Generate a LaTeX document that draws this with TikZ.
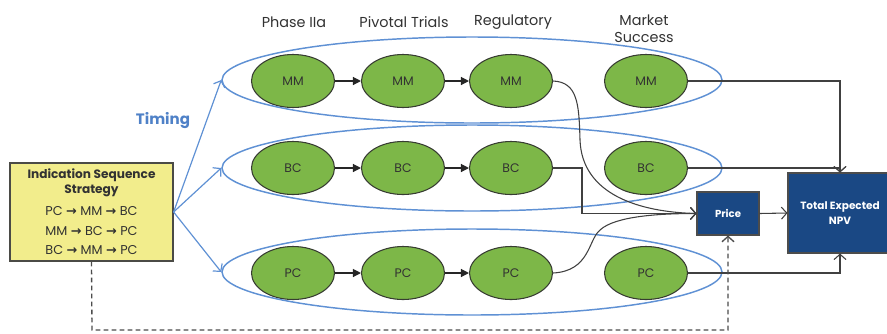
\documentclass[tikz,border=0pt]{standalone}
\usepackage{fontspec}
\setmainfont{Poppins}
\newfontfamily\arrfont{DejaVu Sans}
\usetikzlibrary{arrows.meta,shapes.geometric}
\definecolor{ggreen}{RGB}{125,183,72}
\definecolor{gborder}{RGB}{55,60,50}
\definecolor{lblue}{RGB}{95,145,212}
\definecolor{tblue}{RGB}{79,129,199}
\definecolor{yfill}{RGB}{242,237,140}
\definecolor{yborder}{RGB}{75,75,70}
\definecolor{dblue}{RGB}{26,72,132}
\definecolor{tgray}{RGB}{50,50,50}
\newcommand\sarrow{{\arrfont\bfseries\char"2192}}
\tikzset{
  gell/.style={ellipse, draw=gborder, fill=ggreen, line width=0.8pt, minimum width=62.25pt, minimum height=39.75pt, inner sep=0pt, text=tgray, font=\fontsize{9.3}{11}\selectfont},
  bell/.style={ellipse, draw=lblue, line width=1.1pt, minimum width=375pt, minimum height=64.5pt, inner sep=0pt},
  flow/.style={draw=black!85, line width=0.9pt, -{Triangle[length=6pt,width=6pt]}},
  conn/.style={draw=black!75, line width=0.8pt, -{Straight Barb[length=4pt,width=9pt]}},
  bconn/.style={draw=lblue, line width=0.9pt, -{Straight Barb[length=4pt,width=9pt]}},
  dbox/.style={rectangle, draw=black!70, fill=dblue, line width=0.8pt, text=white, inner sep=0pt, align=center},
  head/.style={text=tgray, font=\fontsize{10.8}{12.8}\selectfont, align=center, inner sep=0pt},
  ytext/.style={text=tgray, font=\fontsize{9.6}{11}\selectfont, inner sep=0pt},
}
\begin{document}
\begin{tikzpicture}[x=0.75pt,y=-0.75pt]
\useasboundingbox (0,0) rectangle (887,333);
% headings
\node[head] (h1) at (294,22) {Phase IIa};
\node[head] (h2) at (404,22) {Pivotal Trials};
\node[head] (h3) at (513,22) {Regulatory};
\node[head] (h4) at (644,29) {Market\\Success};
\node[text=tblue, font=\bfseries\fontsize{11.3}{13}\selectfont, inner sep=0pt] (timing) at (163,121) {Timing};
% yellow box
\node[rectangle, draw=yborder, fill=yfill, line width=0.9pt, minimum width=122.25pt, minimum height=73.5pt, inner sep=0pt] (strat) at (91.5,212) {};
\node[ytext, font=\bfseries\fontsize{9.1}{11}\selectfont] (s1) at (91.5,175) {Indication Sequence};
\node[ytext, font=\bfseries\fontsize{9.1}{11}\selectfont] (s2) at (91.5,191) {Strategy};
\node[ytext] (s3) at (91.5,211) {PC \sarrow{} MM \sarrow{} BC};
\node[ytext] (s4) at (91.5,231) {MM \sarrow{} BC \sarrow{} PC};
\node[ytext] (s5) at (91.5,250) {BC \sarrow{} MM \sarrow{} PC};
% green ellipses
\foreach \r/\y in {MM/81,BC/168,PC/273}{
  \node[gell] (\r1) at (293,\y) {\r};
  \node[gell] (\r2) at (403,\y) {\r};
  \node[gell] (\r3) at (511,\y) {\r};
  \node[gell] (\r4) at (646,\y) {\r};
  \draw[flow] (\r1) -- (\r2);
  \draw[flow] (\r2) -- (\r3);
}
% blue row ellipses
\node[bell] (rowMM) at (472,80) {};
\node[bell] (rowBC) at (472,168) {};
\node[bell] (rowPC) at (472,272) {};
\draw[bconn] (strat.east) -- (rowMM.west);
\draw[bconn] (strat.east) -- (rowBC.west);
\draw[bconn] (strat.east) -- (rowPC.west);
% boxes
\node[dbox, minimum width=46.5pt, minimum height=32.25pt, font=\bfseries\fontsize{7.6}{9}\selectfont] (price) at (728,213.5) {Price};
\node[dbox, minimum width=78pt, minimum height=60pt, font=\bfseries\fontsize{7.9}{11}\selectfont] (npv) at (840,213) {Total Expected\\NPV};
% connectors to price
\draw[conn] (MM3.east) .. controls (578,82) and (579,105) .. (580,140) .. controls (582,195) and (640,212) .. (price.west);
\draw[conn] (BC3.east) -- (582,168) -- (582,213.5) -- (price.west);
\draw[conn] (PC3.east) .. controls (590,271) and (588,240) .. (600,230) .. controls (615,216) and (660,213.5) .. (price.west);
\draw[conn] (price.east) -- (npv.west);
\draw[conn] (MM4.east) -| (npv.north);
\draw[conn] (BC4.east) -| (npv.north);
\draw[conn] (PC4.east) -| (npv.south);
% dashed
\coordinate (dl) at (92,330);
\coordinate (dr) at (728,330);
\draw[conn, draw=black!70, line width=1pt, dashed, dash pattern=on 3.5pt off 2.5pt] (strat.south) -- (dl) -- (dr) -- (price.south);
\end{tikzpicture}
\end{document}
